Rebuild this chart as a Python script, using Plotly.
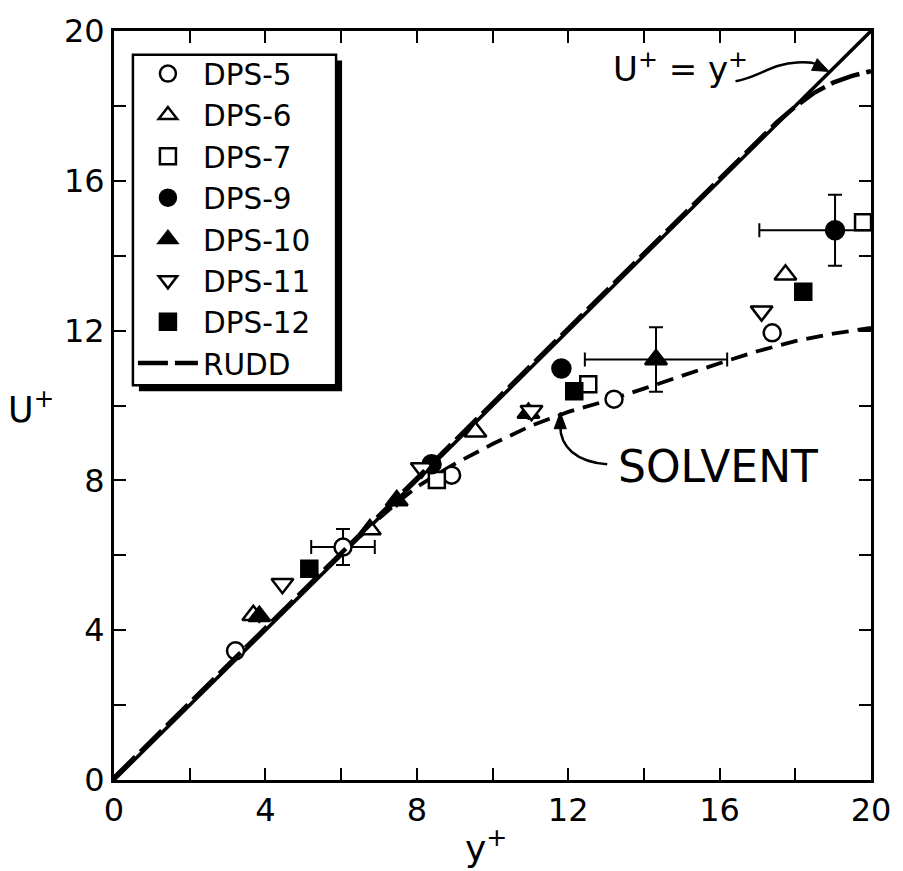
import plotly.graph_objects as go

# ---- measured velocity profiles (y+, U+) ----
dps5_x = [3.21, 6.05, 8.92, 13.21, 17.39]
dps5_y = [3.45, 6.22, 8.14, 10.17, 11.94]
dps5_ex = [0, 0.84, 0, 0, 0]
dps5_ey = [0, 0.48, 0, 0, 0]

dps6_x = [3.68, 6.76, 9.55, 17.74]
dps6_y = [4.40, 6.69, 9.30, 13.49]

dps7_x = [8.53, 12.53, 19.79]
dps7_y = [8.01, 10.57, 14.89]

dps9_x = [8.39, 11.82, 19.05]
dps9_y = [8.43, 10.99, 14.68]
dps9_ex = [0, 0, 2.0]
dps9_ey = [0, 0, 0.95]

dps10_x = [3.84, 7.47, 10.95, 14.32]
dps10_y = [4.37, 7.46, 9.80, 11.23]
dps10_ex = [0, 0, 0, 1.88]
dps10_ey = [0, 0, 0, 0.86]

dps11_x = [4.45, 8.13, 11.03, 17.11]
dps11_y = [5.24, 8.33, 9.86, 12.52]

dps12_x = [5.16, 12.16, 18.21]
dps12_y = [5.64, 10.38, 13.04]

# ---- reference curves ----
linear_x = [0, 20]
linear_y = [0, 20]

rudd_x = [0, 17.5, 18.0, 18.5, 19.0, 19.5, 20.0]
rudd_y = [0.06, 17.55, 17.98, 18.35, 18.62, 18.80, 18.93]

solvent_x = [6.5, 7.0, 7.5, 8.0, 8.5, 9.0, 10.0, 11.0, 12.0, 13.0, 14.0,
             15.0, 16.0, 17.0, 18.0, 19.0, 20.0]
solvent_y = [6.5, 6.98, 7.42, 7.82, 8.14, 8.44, 8.97, 9.45, 9.83, 10.12,
             10.45, 10.80, 11.13, 11.45, 11.72, 11.92, 12.07]

major_ticks = [0, 4, 8, 12, 16, 20]
major_text = [str(v) for v in major_ticks]
minor_ticks = [2, 6, 10, 14, 18]

FONT = "DejaVu Sans"
INK = "black"

fig = go.Figure()

# U+ = y+ line
fig.add_trace(go.Scatter(x=linear_x, y=linear_y, mode="lines",
                         line=dict(color=INK, width=3.5), showlegend=False,
                         hoverinfo="skip"))
# solvent curve
fig.add_trace(go.Scatter(x=solvent_x, y=solvent_y, mode="lines",
                         line=dict(color=INK, width=3.8, dash="17px,9px"),
                         showlegend=False, hoverinfo="skip"))


def err(arr):
    return dict(type="data", array=arr, visible=True, color=INK,
                thickness=2, width=7)


def series(name, xs, ys, symbol, filled, size, ex=None, ey=None):
    marker = dict(symbol=symbol, size=size,
                  color=INK if filled else "white",
                  line=dict(color=INK, width=2.5))
    kw = {}
    if ex is not None:
        kw["error_x"] = err(ex)
    if ey is not None:
        kw["error_y"] = err(ey)
    fig.add_trace(go.Scatter(x=xs, y=ys, mode="markers", name=name,
                             marker=marker, legendgroup=name, **kw))


series("DPS-5", dps5_x, dps5_y, "circle", False, 17, dps5_ex, dps5_ey)
series("DPS-6", dps6_x, dps6_y, "triangle-up", False, 19)
series("DPS-7", dps7_x, dps7_y, "square", False, 16)
series("DPS-9", dps9_x, dps9_y, "circle", True, 18, dps9_ex, dps9_ey)
series("DPS-10", dps10_x, dps10_y, "triangle-up", True, 19, dps10_ex, dps10_ey)
series("DPS-11", dps11_x, dps11_y, "triangle-down", False, 19)
series("DPS-12", dps12_x, dps12_y, "square", True, 16)

fig.add_trace(go.Scatter(x=rudd_x, y=rudd_y, mode="lines", name="RUDD",
                         legendgroup="RUDD",
                         line=dict(color=INK, width=4.5, dash="30px,7px")))

axis_common = dict(range=[0, 20], tickvals=major_ticks, ticktext=major_text,
                   ticks="inside", ticklen=12, tickwidth=2, tickcolor=INK,
                   minor=dict(tickvals=minor_ticks, ticks="inside",
                              ticklen=12, tickwidth=2, tickcolor=INK,
                              showgrid=False),
                   showline=True, linecolor=INK, linewidth=3, mirror="ticks",
                   showgrid=False, zeroline=False,
                   tickfont=dict(family=FONT, size=32, color=INK))

fig.update_xaxes(**axis_common)
fig.update_yaxes(**axis_common)

# curved call-out arrows with filled heads
fig.add_shape(type="path", xref="x", yref="y",
              path="M 16.42,18.66 C 17.0,18.75 17.4,19.14 18.05,19.16 "
                   "S 18.5,19.08 18.6,19.05",
              line=dict(color=INK, width=2.5))
fig.add_shape(type="path", xref="x", yref="y",
              path="M 18.89,18.92 L 18.43,18.95 L 18.58,19.26 Z",
              line=dict(color=INK, width=1), fillcolor=INK)
fig.add_shape(type="path", xref="x", yref="y",
              path="M 13.03,8.43 C 12.2,8.5 11.79,8.9 11.79,9.45",
              line=dict(color=INK, width=2.5))
fig.add_shape(type="path", xref="x", yref="y",
              path="M 11.79,9.82 L 11.63,9.38 L 11.95,9.38 Z",
              line=dict(color=INK, width=1), fillcolor=INK)

# legend frame with drop shadow
fig.add_shape(type="rect", xref="paper", yref="paper", layer="above",
              x0=0.0329, x1=0.3013, y0=0.5191, y1=0.9605,
              line=dict(width=0), fillcolor=INK)
fig.add_shape(type="rect", xref="paper", yref="paper", layer="above",
              x0=0.025, x1=0.2934, y0=0.527, y1=0.9684,
              line=dict(color=INK, width=2.5), fillcolor="white")

annotations = [
    dict(x=14.97, y=19.03, xref="x", yref="y",
         text="U<sup>+</sup> = y<sup>+</sup>", showarrow=False,
         font=dict(family=FONT, size=34, color=INK)),
    dict(x=15.95, y=8.38, xref="x", yref="y", text="SOLVENT",
         showarrow=False, font=dict(family=FONT, size=44, color=INK)),
    dict(x=-0.11, y=0.498, xref="paper", yref="paper", xanchor="center",
         yanchor="middle", text="U<sup>+</sup>", showarrow=False,
         font=dict(family=FONT, size=35, color=INK)),
    dict(x=0.491, y=-0.088, xref="paper", yref="paper", xanchor="center",
         yanchor="middle", text="y<sup>+</sup>", showarrow=False,
         font=dict(family=FONT, size=36, color=INK)),
]

fig.update_layout(
    width=903, height=871,
    margin=dict(l=114, r=29, t=21, b=91),
    paper_bgcolor="white", plot_bgcolor="white",
    annotations=annotations,
    legend=dict(x=0.025, y=0.9774, xanchor="left", yanchor="top",
                bgcolor="rgba(0,0,0,0)", borderwidth=0,
                font=dict(family=FONT, size=29.5, color=INK),
                tracegroupgap=0, itemwidth=60),
)

fig.write_html("out.html")
